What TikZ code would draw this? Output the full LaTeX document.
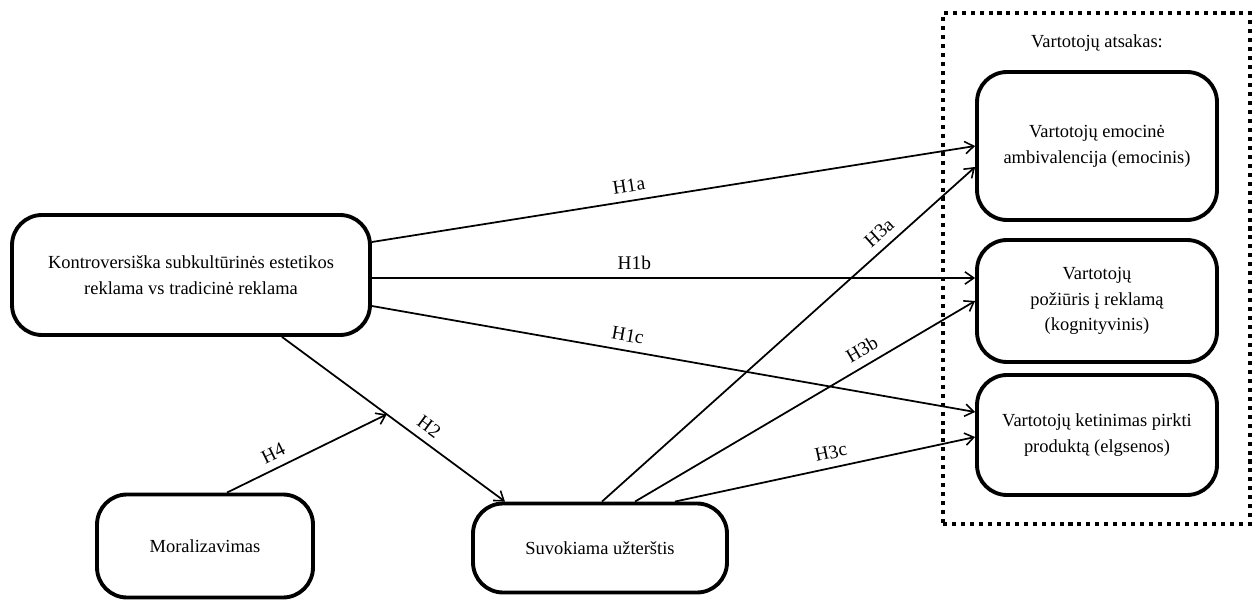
\documentclass[tikz,border=0pt]{standalone}
\usepackage{fontspec}
\setmainfont{Liberation Serif}
\usetikzlibrary{arrows.meta,calc}
\begin{document}
\begin{tikzpicture}[x=0.02cm,y=-0.02cm,
  box/.style={draw,line width=2.2pt,rounded corners=0.6cm,align=center,inner sep=0pt,
    font=\fontsize{10.5}{14.7}\selectfont},
  arr/.style={line width=1pt,-{Straight Barb[length=5pt,width=7pt,line width=0.9pt]}},
  lbl/.style={sloped,above,font=\fontsize{11}{13}\selectfont,inner sep=4.5pt}]
\useasboundingbox (0,0) rectangle (1258,601);
\node[box,minimum width=7.16cm,minimum height=2.4cm] (k) at (191,275)
  {Kontroversiška subkultūrinės estetikos\\reklama vs tradicinė reklama};
\node[box,minimum width=4.8cm,minimum height=2.96cm] (e) at (1097,146)
  {Vartotojų emocinė\\ambivalencija (emocinis)};
\node[box,minimum width=4.8cm,minimum height=2.44cm] (p) at (1097,301)
  {Vartotojų\\požiūris į reklamą\\(kognityvinis)};
\node[box,minimum width=4.8cm,minimum height=2.4cm] (t) at (1097,435)
  {Vartotojų ketinimas pirkti\\produktą (elgsenos)};
\node[box,minimum width=4.32cm,minimum height=2.06cm] (m) at (205,546)
  {Moralizavimas};
\node[box,minimum width=5.08cm,minimum height=1.78cm] (s) at (600,548)
  {Suvokiama užterštis};
\node[draw,line width=2.3pt,dash pattern=on 2.3pt off 2.8pt,minimum width=6.14cm,
  minimum height=10.22cm,inner sep=0pt] (g) at (1096.5,268.5) {};
\node[font=\fontsize{10.5}{13}\selectfont] (ga) at (1097,43) {Vartotojų atsakas:};
% arrows
\draw[arr] ([yshift=0.66cm]k.east) -- node[lbl,pos=0.43]{H1a} (e.west);
\draw[arr] ([yshift=-0.06cm]k.east) -- node[lbl,pos=0.435]{H1b} ([yshift=0.46cm]p.west);
\draw[arr] ([yshift=-0.62cm]k.east) -- node[lbl,pos=0.42]{H1c} ([yshift=0.46cm]t.west);
\draw[arr] ([xshift=0.04cm]s.north) -- node[lbl,pos=0.77]{H3a} ([yshift=-0.42cm]e.west);
\draw[arr] ([xshift=0.7cm]s.north) -- node[lbl,pos=0.69]{H3b} (p.west);
\draw[arr] ([xshift=1.5cm]s.north) -- node[lbl,pos=0.53]{H3c} ([yshift=-0.04cm]t.west);
\draw[arr] ([xshift=1.82cm]k.south) -- coordinate[pos=0.47](h4) node[lbl,pos=0.62]{H2} ([xshift=-1.9cm]s.north);
\draw[arr] ([xshift=0.44cm]m.north) -- node[lbl,pos=0.33]{H4} (h4);
\end{tikzpicture}
\end{document}
